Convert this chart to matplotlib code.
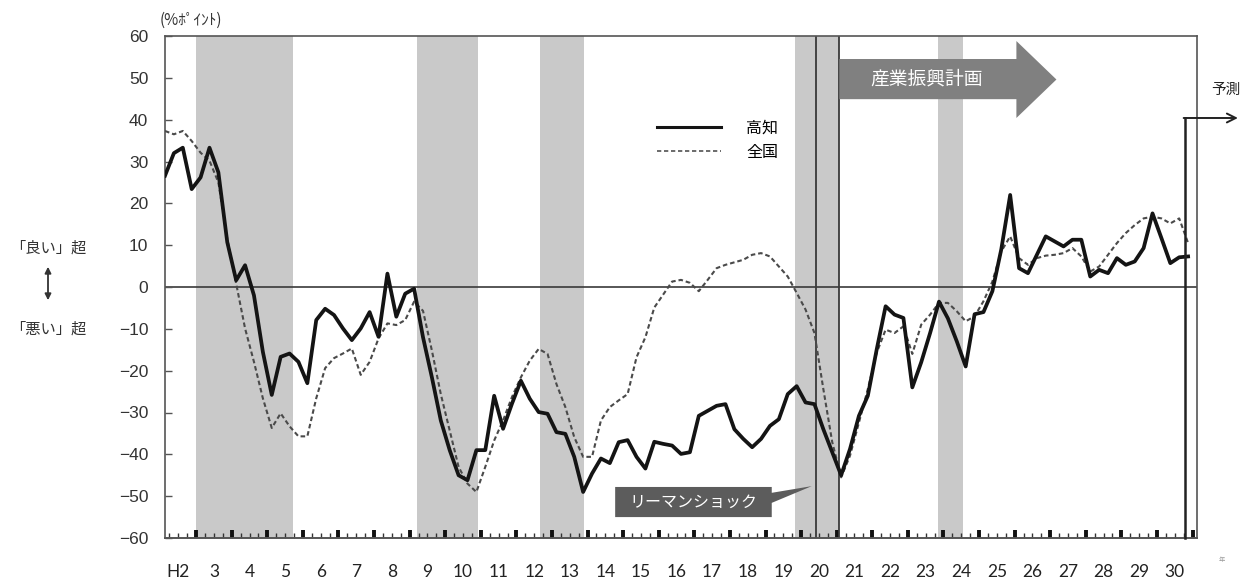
import numpy as np
import matplotlib
matplotlib.use("Agg")
import matplotlib.pyplot as plt
from matplotlib.patches import Polygon, FancyArrowPatch
from matplotlib.lines import Line2D

plt.rcParams['font.family'] = ['Noto Sans CJK JP', 'DejaVu Sans']

# Fiscal-year labels (Heisei), four quarters per year
years = ['H2'] + [str(y) for y in range(3, 31)]

# Business conditions DI (% points), quarterly, H2 Q1 - H30 Q4
kochi = [
    26.6, 32.0, 33.3, 23.4,
    26.2, 33.3, 27.4, 10.7,
    1.6, 5.2, -2.0, -15.5,
    -25.8, -16.7, -15.9, -17.9,
    -23.0, -7.9, -5.2, -6.7,
    -9.9, -12.7, -9.9, -6.0,
    -11.9, 3.2, -7.1, -1.6,
    -0.4, -12.0, -21.6, -31.9,
    -39.0, -45.0, -46.2, -39.0,
    -39.0, -26.0, -33.9, -27.9,
    -22.4, -26.7, -29.9, -30.3,
    -34.7, -35.1, -40.6, -49.0,
    -44.6, -41.0, -42.1, -37.1,
    -36.6, -40.6, -43.4, -37.0,
    -37.5, -37.9, -39.9, -39.5,
    -30.8, -29.6, -28.4, -28.0,
    -34.0, -36.3, -38.3, -36.3,
    -33.2, -31.6, -25.6, -23.7,
    -27.6, -28.0, -34.0, -39.5,
    -45.0, -38.7, -30.8, -26.0,
    -14.9, -4.6, -6.6, -7.4,
    -24.0, -18.0, -11.0, -3.5,
    -7.5, -13.0, -19.0, -6.5,
    -6.0, -1.0, 9.0, 22.0,
    4.5, 3.3, 7.7, 12.1,
    10.9, 9.7, 11.3, 11.3,
    2.5, 4.1, 3.3, 6.9,
    5.3, 6.1, 9.3, 17.6,
    11.7, 5.7, 7.1, 7.3,
]

zenkoku = [
    37.3, 36.5, 37.3, 34.9,
    32.1, 30.2, 25.0, 11.5,
    0.8, -9.9, -17.9, -26.6,
    -33.7, -30.2, -33.3, -35.7,
    -35.7, -26.6, -19.4, -17.0,
    -15.9, -14.7, -21.0, -17.9,
    -12.3, -8.7, -9.1, -7.9,
    -3.5, -5.7, -15.2, -25.6,
    -34.3, -43.0, -47.0, -49.0,
    -43.0, -36.7, -31.9, -26.3,
    -21.6, -17.6, -14.8, -16.0,
    -23.2, -28.7, -35.9, -40.6,
    -40.6, -31.9, -28.7, -27.1,
    -25.6, -16.8, -12.0, -4.9,
    -1.8, 1.3, 1.7, 1.0,
    -1.0, 1.7, 4.5, 5.3,
    5.9, 6.5, 7.7, 8.1,
    7.3, 4.9, 2.5, -1.4,
    -5.4, -11.0, -24.4, -37.1,
    -45.5, -40.3, -32.4, -24.4,
    -15.7, -10.2, -11.0, -9.4,
    -16.0, -9.0, -6.6, -3.8,
    -3.8, -5.8, -8.2, -7.0,
    -3.4, 1.3, 8.5, 12.1,
    6.9, 5.3, 6.9, 7.5,
    7.7, 8.1, 9.3, 7.3,
    3.7, 4.9, 7.7, 10.5,
    12.9, 14.8, 16.4, 16.8,
    16.4, 15.2, 16.4, 10.5,
]

# Recession periods, in quarter index units
recessions = [(3.5, 14.4), (28.3, 35.2), (42.1, 47.1), (70.8, 75.8), (86.9, 89.7)]
# Lehman shock and start of the industrial promotion plan
event_lines = [73.2, 75.8]
forecast_start = 114.6

W, H = 1251, 588
fig = plt.figure(figsize=(W / 100, H / 100), dpi=100)
ax = fig.add_axes([165 / W, 50 / H, 1032 / W, 502 / H])

x = np.arange(len(kochi))
ax.set_xlim(0, 116)
ax.set_ylim(-60, 60)

for a, b in recessions:
    ax.axvspan(a, b, color='#c9c9c9', lw=0, zorder=0)

ax.axhline(0, color='#3a3a3a', lw=1.2, zorder=1)
for v in event_lines:
    ax.axvline(v, color='#3a3a3a', lw=1.3, zorder=1)

ax.plot(x, zenkoku, color='#4a4a4a', lw=1.5, ls=(0, (2.2, 1.4)), zorder=3)
ax.plot(x, kochi, color='#141414', lw=2.7, zorder=4)

# Axis styling
for s in ax.spines.values():
    s.set_color('#555555')
    s.set_linewidth(1.2)

ax.set_yticks(np.arange(-60, 61, 10))
ax.tick_params(axis='y', direction='in', length=5, width=1, color='#555555',
               pad=12, labelsize=12.5, labelcolor='#333333')
for lab in ax.get_yticklabels():
    lab.set_family('Liberation Sans')

# Year labels centred on each year
ax.set_xticks(np.arange(len(years)) * 4 + 1.5)
ax.set_xticklabels(years)
ax.tick_params(axis='x', which='major', length=0, pad=19, labelsize=12.5,
               labelcolor='#222222')
for lab in ax.get_xticklabels():
    lab.set_family('Lato')

# Quarter ticks
sec_q = ax.secondary_xaxis('bottom')
sec_q.set_xticks(np.arange(0, 116) + 0.5)
sec_q.tick_params(direction='in', length=3.5, width=1.0, color='#333333',
                  labelbottom=False)
sec_q.spines['bottom'].set_visible(False)

# Heavier year-boundary ticks
sec = ax.secondary_xaxis('bottom')
sec.set_xticks(np.arange(len(years)) * 4 + 3.5)
sec.tick_params(which='major', direction='in', length=6, width=2.8, color='#111111',
                labelbottom=False)
sec.spines['bottom'].set_color('#555555')
sec.spines['bottom'].set_linewidth(1.2)

# Industrial promotion plan arrow
plan = Polygon([(75.8, 44.9), (95.7, 44.9), (95.7, 40.4), (100.2, 49.6),
                (95.7, 58.8), (95.7, 54.5), (75.8, 54.5)],
               closed=True, facecolor='#808080', edgecolor='none', zorder=5)
ax.add_patch(plan)
ax.text(85.6, 49.6, '産業振興計画', color='white', fontsize=13.5, ha='center',
        va='center', zorder=6)

# Lehman shock callout
callout = Polygon([(50.6, -47.8), (68.2, -47.8), (68.2, -49.2), (72.7, -47.6),
                   (68.2, -51.6), (68.2, -55.0), (50.6, -55.0)],
                  closed=True, facecolor='#5c5c5c', edgecolor='none', zorder=5)
ax.add_patch(callout)
ax.text(59.4, -51.4, 'リーマンショック', color='white', fontsize=11.5, ha='center',
        va='center', zorder=6)

# Forecast marker
ax.plot([forecast_start, forecast_start], [-60, 40.4], color='#222222', lw=1.8,
        clip_on=False, zorder=6)
ax.annotate('', xy=(120.6, 40.4), xytext=(forecast_start - 0.1, 40.4),
            arrowprops=dict(arrowstyle='->', lw=1.4, color='#222222',
                            shrinkA=0, shrinkB=0, mutation_scale=16),
            annotation_clip=False, zorder=6)
ax.text(119.2, 47.2, '予測', fontsize=10.5, ha='center', va='center',
        color='#222222', clip_on=False)

# Legend
handles = [Line2D([], [], color='#141414', lw=2.2),
           Line2D([], [], color='#6a6a6a', lw=1.4, ls=(0, (2.2, 1.4)))]
fig.legend(handles, ['高知', '全国'], loc='center left',
           bbox_to_anchor=(657 / W, 1 - 140 / H), bbox_transform=fig.transFigure,
           frameon=False, borderpad=0, borderaxespad=0, handlelength=4.0,
           handletextpad=1.6, labelspacing=0.45, fontsize=11.5)

# Outer annotations
fig.text(160 / W, 1 - 20 / H, '(%ﾎﾟｲﾝﾄ)', fontsize=11, va='center', ha='left',
         color='#333333')
fig.text(48 / W, 1 - 248 / H, '「良い」超', fontsize=11, va='center', ha='center',
         color='#333333')
fig.text(48 / W, 1 - 329 / H, '「悪い」超', fontsize=11, va='center', ha='center',
         color='#333333')
fig.patches.append(FancyArrowPatch(
    (48 / W, 1 - 264 / H), (48 / W, 1 - 303 / H), transform=fig.transFigure,
    arrowstyle='<|-|>', mutation_scale=9, lw=1.3, color='#333333'))
fig.text(1222 / W, 1 - 560 / H, '年', fontsize=4.5, va='center', ha='center',
         color='#999999')

fig.savefig('out.png', dpi=100)
